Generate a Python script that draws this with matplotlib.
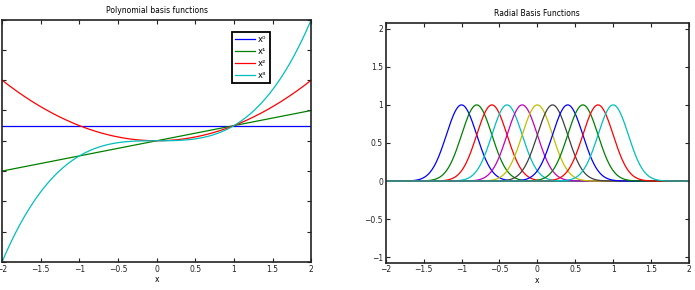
import numpy as np
import matplotlib
matplotlib.use("Agg")
import matplotlib.pyplot as plt
from matplotlib.ticker import FuncFormatter

# data
x = np.linspace(-2, 2, 401)
poly_powers = [0, 1, 2, 3]
poly_labels = ["x\u2070", "x\u00b9", "x\u00b2", "x\u00b3"]
rbf_centers = [-1.0, -0.8, -0.6, -0.4, -0.2, 0.0, 0.2, 0.4, 0.6, 0.8, 1.0]
rbf_sigma = 0.2
x_ticks = [-2, -1.5, -1, -0.5, 0, 0.5, 1, 1.5, 2]
rbf_yticks = [-1, -0.5, 0, 0.5, 1, 1.5, 2]

# old MATLAB colour order
colors = ["#0000ff", "#008000", "#ff0000", "#00bfbf", "#bf00bf", "#bfbf00", "#404040"]

plt.rcParams["font.family"] = "DejaVu Sans"
plt.rcParams["font.size"] = 5.5
plt.rcParams["axes.linewidth"] = 1.2
plt.rcParams["axes.edgecolor"] = "#222222"

fmt = FuncFormatter(lambda v, pos: ("%g" % v).replace("-", "\u2212"))


def style_axes(ax):
    ax.tick_params(direction="in", top=True, right=True, length=3, width=0.8,
                   labelsize=5.5, pad=2, colors="#222222")
    ax.xaxis.set_major_formatter(fmt)
    ax.yaxis.set_major_formatter(fmt)
    ax.set_xlabel("x", labelpad=1)


fig = plt.figure(figsize=(6.95, 2.9), dpi=100)

ax1 = fig.add_axes([0.0029, 0.0966, 0.445, 0.836])
for i, p in enumerate(poly_powers):
    ax1.plot(x, x ** p, color=colors[i], lw=0.9, label=poly_labels[i])
ax1.set_xlim(-2, 2)
ax1.set_ylim(-8, 8)
ax1.set_xticks(x_ticks)
ax1.set_yticks(np.arange(-8, 9, 2))
ax1.set_title("Polynomial basis functions", fontsize=5.5, pad=5)
style_axes(ax1)
leg = ax1.legend(loc="upper left", bbox_to_anchor=(0.744, 0.95), fancybox=False,
                 framealpha=1, edgecolor="black", fontsize=6, handlelength=2.4,
                 borderpad=0.4, labelspacing=0.35, handletextpad=0.3,
                 borderaxespad=0)
leg.get_frame().set_linewidth(1.3)

ax2 = fig.add_axes([0.555, 0.0948, 0.4364, 0.827])
for i, c in enumerate(rbf_centers):
    ax2.plot(x, np.exp(-(x - c) ** 2 / (2 * rbf_sigma ** 2)),
             color=colors[i % len(colors)], lw=0.9)
ax2.set_xlim(-2, 2)
ax2.set_ylim(-1.07, 2.08)
ax2.set_xticks(x_ticks)
ax2.set_yticks(rbf_yticks)
ax2.set_title("Radial Basis Functions", fontsize=5.5, pad=5)
style_axes(ax2)

fig.savefig("out.png", dpi=100)
